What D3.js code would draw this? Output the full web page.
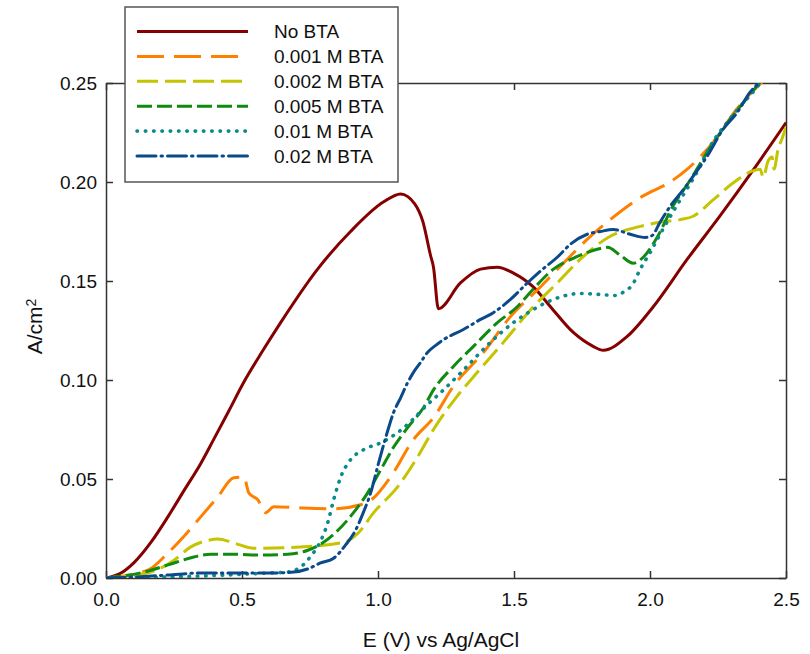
<!DOCTYPE html>
<html>
<head>
<meta charset="utf-8">
<script src="https://cdn.jsdelivr.net/npm/d3@7"></script>
<style>
  body { margin: 0; background: #fff; }
  svg { font-family: "Liberation Sans", Arial, sans-serif; }
</style>
</head>
<body>
<div id="chart"></div>
<script>
// data: [E (V), current density (A/cm2)]
const noBta = [[0,0],[0.055,0.0025],[0.103,0.0078],[0.165,0.018],[0.228,0.031],[0.286,0.044],
  [0.349,0.058],[0.396,0.070],[0.45,0.084],[0.507,0.099],[0.575,0.1145],[0.642,0.129],
  [0.778,0.156],[0.899,0.175],[1.021,0.190],[1.083,0.194],[1.135,0.189],[1.165,0.180],
  [1.193,0.163],[1.204,0.157],[1.222,0.136],[1.303,0.149],[1.377,0.156],[1.439,0.157],
  [1.498,0.154],[1.571,0.147],[1.634,0.137],[1.718,0.124],[1.791,0.117],[1.828,0.115],
  [1.916,0.122],[2.012,0.137],[2.137,0.161],[2.258,0.183],[2.379,0.206],[2.5,0.230]];
const bta001 = [[0,0],[0.154,0.004],[0.228,0.0127],[0.286,0.021],[0.349,0.031],[0.411,0.041],
  [0.470,0.0506],[0.507,0.051],[0.525,0.043],[0.558,0.0395],[0.587,0.033],[0.617,0.036],
  [0.716,0.0354],[0.837,0.035],[0.936,0.037],[0.980,0.040],[1.046,0.051],[1.131,0.070],
  [1.204,0.081],[1.278,0.097],[1.388,0.114],[1.487,0.132],[1.597,0.147],[1.696,0.161],
  [1.769,0.171],[1.854,0.181],[1.975,0.193],[2.074,0.200],[2.137,0.2065],[2.232,0.220],
  [2.320,0.237],[2.412,0.2505]];
const bta002 = [[0,0],[0.165,0.003],[0.250,0.009],[0.312,0.0157],[0.374,0.019],[0.411,0.0197],
  [0.470,0.0177],[0.543,0.015],[0.716,0.0157],[0.874,0.018],[0.929,0.023],[0.984,0.033],
  [1.072,0.046],[1.145,0.061],[1.204,0.075],[1.292,0.092],[1.366,0.104],[1.461,0.119],
  [1.571,0.137],[1.659,0.149],[1.744,0.161],[1.854,0.1726],[1.964,0.1776],[2.037,0.1797],
  [2.111,0.181],[2.159,0.1827],[2.232,0.191],[2.320,0.201],[2.375,0.2055],[2.405,0.2065],
  [2.416,0.2024],[2.434,0.2105],[2.449,0.2126],[2.456,0.2065],[2.471,0.2166],[2.485,0.2217],
  [2.5,0.2277]];
const bta005 = [[0,0],[0.140,0.003],[0.228,0.0066],[0.323,0.0106],[0.385,0.012],[0.470,0.012],
  [0.569,0.0116],[0.668,0.012],[0.742,0.014],[0.800,0.018],[0.852,0.024],[0.910,0.033],
  [0.962,0.043],[1.010,0.0547],[1.057,0.066],[1.109,0.076],[1.167,0.086],[1.204,0.095],
  [1.278,0.107],[1.351,0.117],[1.439,0.129],[1.512,0.137],[1.571,0.146],[1.645,0.156],
  [1.733,0.1624],[1.806,0.166],[1.843,0.167],[1.891,0.163],[1.938,0.159],[1.975,0.162],
  [2.026,0.172],[2.085,0.188],[2.148,0.201],[2.210,0.215],[2.269,0.227],[2.331,0.238],
  [2.405,0.2505]];
const bta01 = [[0,0],[0.349,0.001],[0.595,0.0025],[0.668,0.003],[0.716,0.0056],[0.753,0.011],
  [0.789,0.0187],[0.815,0.0278],[0.837,0.0395],[0.863,0.051],[0.899,0.0597],[0.947,0.0648],
  [1.010,0.0683],[1.072,0.0734],[1.120,0.079],[1.182,0.0876],[1.230,0.0936],[1.314,0.105],
  [1.413,0.119],[1.498,0.129],[1.571,0.1356],[1.645,0.1407],[1.744,0.1437],[1.817,0.1432],
  [1.872,0.1427],[1.909,0.145],[1.935,0.148],[1.964,0.156],[2.001,0.1645],[2.037,0.1736],
  [2.085,0.185],[2.129,0.195],[2.173,0.205],[2.221,0.218],[2.283,0.230],[2.331,0.238],
  [2.394,0.248],[2.405,0.250]];
const bta02 = [[0,0],[0.103,0.0005],[0.228,0.0015],[0.349,0.0025],[0.595,0.0025],[0.690,0.003],
  [0.742,0.0046],[0.789,0.0076],[0.837,0.010],[0.881,0.0167],[0.918,0.0243],[0.947,0.0334],
  [0.973,0.043],[1.002,0.058],[1.028,0.0708],[1.057,0.0835],[1.083,0.091],[1.109,0.0987],
  [1.131,0.104],[1.156,0.1088],[1.182,0.1139],[1.211,0.1174],[1.241,0.1204],[1.314,0.1255],
  [1.377,0.1306],[1.424,0.134],[1.487,0.1407],[1.549,0.149],[1.597,0.155],[1.659,0.162],
  [1.707,0.1685],[1.769,0.1736],[1.817,0.175],[1.865,0.176],[1.927,0.1736],[1.982,0.172],
  [2.008,0.173],[2.037,0.1797],[2.074,0.1877],[2.122,0.196],[2.159,0.203],[2.210,0.213],
  [2.269,0.2267],[2.320,0.235],[2.368,0.2454],[2.405,0.2505]];

const seriesNames = ["No BTA", "0.001 M BTA", "0.002 M BTA", "0.005 M BTA", "0.01 M BTA", "0.02 M BTA"];
const seriesData = [noBta, bta001, bta002, bta005, bta01, bta02];
const xTicks = [0, 0.5, 1.0, 1.5, 2.0, 2.5];
const yTicks = [0, 0.05, 0.10, 0.15, 0.20, 0.25];

// line styles
const colors = ["#850000", "#ff8000", "#c4c400", "#118a11", "#0a8a8a", "#0b4a8a"];
const dashes = [null, "27,10", "21,7", "15,5", "0.5,7.8", "19,5,1.5,5"];
const widths = [3, 3, 3, 3, 3.6, 3];

const margin = {top: 83, right: 24, bottom: 76, left: 106},
    width = 810 - margin.left - margin.right,
    height = 654 - margin.top - margin.bottom;

const svg = d3.select("#chart")
  .append("svg")
    .attr("width", 810)
    .attr("height", 654)
  .append("g")
    .attr("transform", "translate(" + margin.left + "," + margin.top + ")");

const x = d3.scaleLinear().domain([0, 2.5]).range([0, width]);
const y = d3.scaleLinear().domain([0, 0.25]).range([height, 0]);

svg.append("clipPath").attr("id", "clip")
  .append("rect").attr("width", width).attr("height", height);

// axes, ticks pointing inward on all four sides
const axisColor = "#333";
function styleAxis(g) {
  g.selectAll(".domain").attr("stroke", axisColor).attr("stroke-width", 1.5);
  g.selectAll(".tick line").attr("stroke", axisColor).attr("stroke-width", 1.5);
  g.selectAll("text").attr("fill", "#111").style("font-size", "19px")
    .style("font-family", "'Liberation Sans', Arial, sans-serif");
}

svg.append("g")
  .attr("transform", "translate(0," + height + ")")
  .call(d3.axisBottom(x).tickValues(xTicks).tickFormat(d3.format(".1f"))
    .tickSizeInner(-7).tickSizeOuter(0).tickPadding(15))
  .call(styleAxis);

svg.append("g")
  .call(d3.axisLeft(y).tickValues(yTicks).tickFormat(d3.format(".2f"))
    .tickSizeInner(-7).tickSizeOuter(0).tickPadding(9))
  .call(styleAxis);

svg.append("g")
  .call(d3.axisTop(x).tickValues(xTicks).tickFormat("")
    .tickSizeInner(-7).tickSizeOuter(0))
  .call(styleAxis);

svg.append("g")
  .attr("transform", "translate(" + width + ",0)")
  .call(d3.axisRight(y).tickValues(yTicks).tickFormat("")
    .tickSizeInner(-7).tickSizeOuter(0))
  .call(styleAxis);

// curves
const line = d3.line()
  .x(d => x(d[0]))
  .y(d => y(d[1]))
  .curve(d3.curveMonotoneX);

svg.append("g")
  .attr("clip-path", "url(#clip)")
  .selectAll("path")
  .data(seriesData)
  .enter()
  .append("path")
    .attr("d", line)
    .attr("fill", "none")
    .attr("stroke", (d, i) => colors[i])
    .attr("stroke-width", (d, i) => widths[i])
    .attr("stroke-linecap", (d, i) => i == 4 || i == 5 ? "round" : "butt")
    .attr("stroke-linejoin", "round")
    .attr("stroke-dasharray", (d, i) => dashes[i]);

// legend box
const legend = svg.append("g")
  .attr("transform", "translate(" + (125 - margin.left) + "," + (7 - margin.top) + ")");

legend.append("rect")
  .attr("width", 273)
  .attr("height", 175)
  .attr("fill", "#fff")
  .attr("stroke", "#555")
  .attr("stroke-width", 1.5);

const rows = legend.selectAll(".row")
  .data(seriesNames)
  .enter()
  .append("g")
    .attr("transform", (d, i) => "translate(0," + (24.5 + i * 24.9) + ")");

rows.append("line")
  .attr("x1", 12).attr("x2", 123)
  .attr("stroke", (d, i) => colors[i])
  .attr("stroke-width", (d, i) => widths[i])
  .attr("stroke-linecap", (d, i) => i == 4 || i == 5 ? "round" : "butt")
  .attr("stroke-dasharray", (d, i) => dashes[i]);

rows.append("text")
  .attr("x", 149)
  .attr("dy", "0.35em")
  .style("font-size", "19px")
  .attr("fill", "#111")
  .text(d => d);

// axis titles
svg.append("text")
  .attr("x", width / 2 - 5)
  .attr("y", height + 69)
  .attr("text-anchor", "middle")
  .style("font-size", "21px")
  .attr("fill", "#111")
  .text("E (V) vs Ag/AgCl");

const yTitle = svg.append("text")
  .attr("transform", "translate(" + (42 - margin.left) + "," + (height / 2 - 4) + ") rotate(-90)")
  .attr("text-anchor", "middle")
  .style("font-size", "21px")
  .attr("fill", "#111");
yTitle.append("tspan").text("A/cm");
yTitle.append("tspan").attr("dy", "-0.45em").style("font-size", "14px").text("2");
</script>
</body>
</html>
